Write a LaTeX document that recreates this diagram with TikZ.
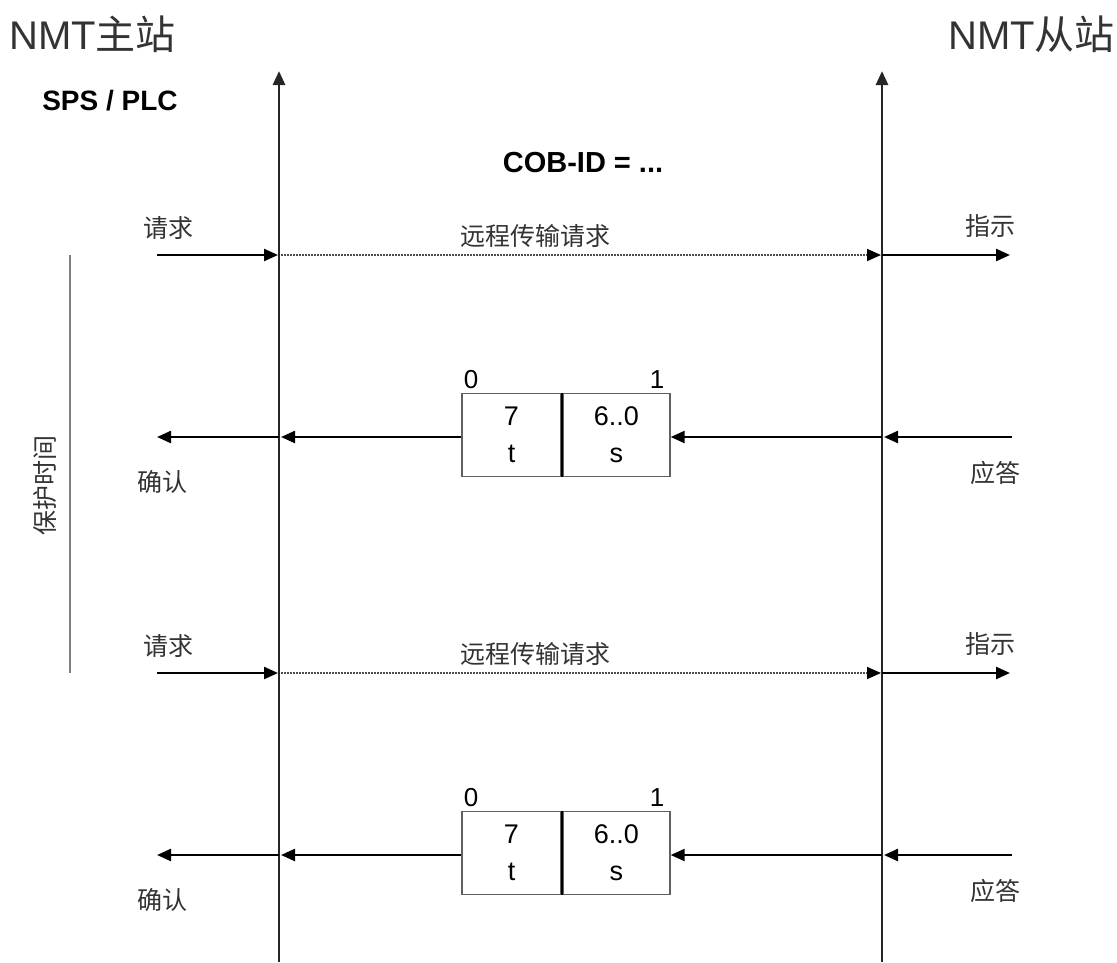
\documentclass[tikz,border=0pt]{standalone}
\usepackage{fontspec}
\setmainfont{Liberation Sans}
\newfontfamily\cjk{Noto Sans CJK SC}
\usetikzlibrary{arrows.meta}
\begin{document}
\begin{tikzpicture}[x=1pt,y=-1pt,
  arr/.style={line width=2.4pt,-{Triangle[length=14pt,width=12pt]}},
  dotline/.style={line width=1.8pt,gray!60!black,dash pattern=on 1.5pt off 1.5pt,-{Triangle[length=14pt,width=12pt,color=black]}},
  life/.style={line width=2.8pt,black!85,-{Triangle[length=14pt,width=12pt]}},
  cell/.style={draw=gray!75!black,line width=1.8pt,inner sep=0pt,minimum height=83pt,align=center,font=\fontsize{27}{37}\selectfont},
  lbl/.style={font=\cjk\fontsize{25}{30}\selectfont,text=black!80},
  bit/.style={font=\fontsize{26}{30}\selectfont,inner sep=0pt}]
\useasboundingbox (0,0) rectangle (1117,962);
% titles
\node[anchor=west,font=\fontsize{40}{46}\selectfont,text=black!80,inner sep=0pt] (tm) at (9,34) {NMT{\cjk 主站}};
\node[anchor=east,font=\fontsize{40}{46}\selectfont,text=black!80,inner sep=0pt] (ts) at (1115,34) {NMT{\cjk 从站}};
\node[font=\bfseries\fontsize{28}{32}\selectfont,inner sep=0pt] (sps) at (110,101) {SPS / PLC};
\node[font=\bfseries\fontsize{29}{33}\selectfont,inner sep=0pt] (cob) at (583,163) {COB-ID = ...};
% lifelines
\coordinate (Mbot) at (279,962);
\coordinate (Mtop) at (279,71);
\coordinate (Sbot) at (882,962);
\coordinate (Stop) at (882,71);
\draw[life] (Mbot) -- (Mtop);
\draw[life] (Sbot) -- (Stop);
% guard time
\coordinate (g1) at (70,255);
\coordinate (g2) at (70,673);
\draw[line width=2.2pt,gray] (g1) -- (g2);
\node[lbl,rotate=90] (guard) at (45,485) {保护时间};
% two exchanges
\foreach \i/\rq/\rs in {1/255/437, 2/673/855}{
  \coordinate (rqA\i) at (157,\rq);
  \coordinate (rqB\i) at (279,\rq);
  \coordinate (rqC\i) at (882,\rq);
  \coordinate (rqD\i) at (1010,\rq);
  \draw[arr] (rqA\i) -- ([xshift=-1pt]rqB\i);
  \draw[dotline] ([xshift=2pt]rqB\i) -- ([xshift=-1pt]rqC\i);
  \draw[arr] (rqC\i) -- (rqD\i);
  \node[lbl] (req\i) at (168,\rq-27) {请求};
  \node[lbl] (rtr\i) at (535,\rq-19) {远程传输请求};
  \node[lbl] (ind\i) at (990,\rq-29) {指示};
  % response
  \node[cell,minimum width=99pt] (bt\i) at (511.5,\rs-2) {7\\t};
  \node[cell,minimum width=107pt,anchor=west] (bs\i) at (bt\i.east) {6..0\\s};
  \draw[line width=1.2pt,black] (bt\i.north east) -- (bt\i.south east);
  \node[bit] (z\i) at (471,\rs-57) {0};
  \node[bit] (o\i) at (657,\rs-57) {1};
  \coordinate (rsA\i) at (1012,\rs);
  \coordinate (rsB\i) at (882,\rs);
  \coordinate (rsC\i) at (279,\rs);
  \coordinate (rsD\i) at (157,\rs);
  \draw[arr] (rsA\i) -- ([xshift=2pt]rsB\i);
  \draw[arr] (rsB\i) -- (bs\i.east |- rsB\i);
  \draw[arr] (bt\i.west |- rsB\i) -- ([xshift=2pt]rsC\i);
  \draw[arr] (rsC\i) -- (rsD\i);
  \node[lbl] (ack\i) at (162,\rs+45) {确认};
  \node[lbl] (rsp\i) at (995,\rs+36) {应答};
}
\end{tikzpicture}
\end{document}
